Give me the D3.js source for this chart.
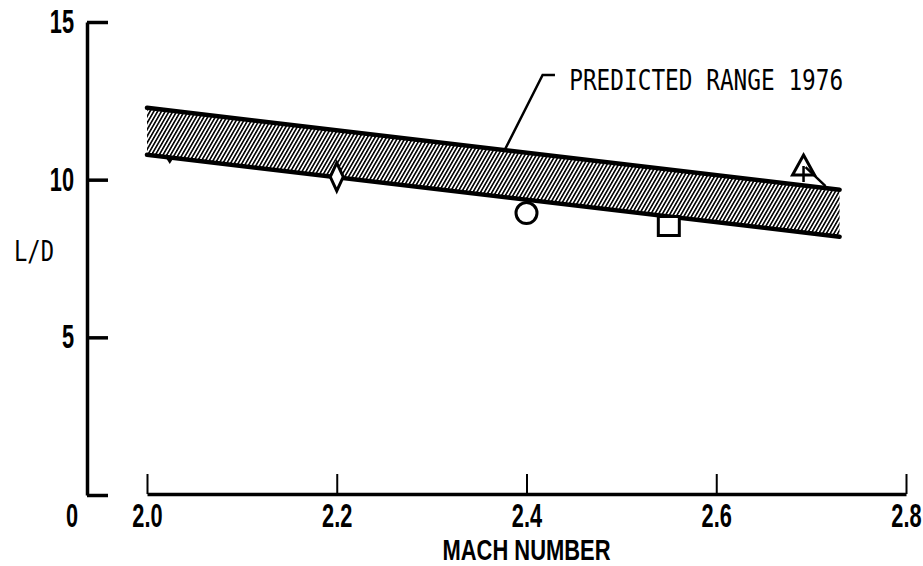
<!DOCTYPE html>
<html>
<head>
<meta charset="utf-8">
<script src="https://cdn.jsdelivr.net/npm/d3@7.9.0/dist/d3.min.js"></script>
<style>
  html, body { margin: 0; padding: 0; background: #fff; }
  svg { display: block; }
  .num { font-family: "Liberation Sans", Arial, sans-serif; font-size: 33px; font-weight: bold; fill: #000; }
  .title { font-family: "Liberation Sans", Arial, sans-serif; font-size: 29px; font-weight: bold; fill: #000; }
  .mono { font-family: "DejaVu Sans Mono", "Liberation Mono", monospace; fill: #000; }
</style>
</head>
<body>
<svg id="chart" width="923" height="566"></svg>
<script>
// predicted range band (1976)
const bandMach = [2.0, 2.73];
const bandUpper = [12.28, 9.68];
const bandLower = [10.79, 8.19];

// measured points
const pointMach = [2.024, 2.2, 2.4, 2.55, 2.692];
const pointLD = [10.62, 10.09, 8.94, 8.53, 10.4];
const pointShape = ["wedge", "diamond", "circle", "square", "flagTriangle"];

// axis ticks
const xTicks = [2.0, 2.2, 2.4, 2.6, 2.8];
const yTicks = [0, 5, 10, 15];

// annotation
const leaderMach = [2.377, 2.417, 2.43];
const leaderLD = [10.94, 13.32, 13.32];
const annotText = "PREDICTED  RANGE  1976";

const svg = d3.select("#chart");

const x = d3.scaleLinear().domain([2.0, 2.8]).range([147, 906]);
const y = d3.scaleLinear().domain([0, 15]).range([495, 22]);
const yAxisX = 87;
const squeeze = 0.66; // condensed look for the numerals

// hatch pattern
const defs = svg.append("defs");
const pat = defs.append("pattern")
  .attr("id", "hatch")
  .attr("patternUnits", "userSpaceOnUse")
  .attr("width", 3.3)
  .attr("height", 10)
  .attr("patternTransform", "rotate(30)");
pat.append("rect").attr("width", 3.3).attr("height", 10).attr("fill", "#fff");
pat.append("rect")
  .attr("x", 0).attr("y", 0).attr("width", 1.6).attr("height", 10)
  .attr("fill", "#000");

// y axis
const yAxis = d3.axisLeft(y)
  .tickValues(yTicks)
  .tickSize(-21)
  .tickSizeOuter(0)
  .tickPadding(13)
  .tickFormat(d => d === 0 ? "" : d);
const gy = svg.append("g")
  .attr("transform", `translate(${yAxisX},0)`)
  .call(yAxis);
gy.select(".domain").attr("stroke", "#000").attr("stroke-width", 3.5);
gy.selectAll(".tick line").attr("stroke", "#000").attr("stroke-width", 3.5);
gy.selectAll(".tick text")
  .attr("class", "num").attr("font-family", null).attr("font-size", null)
  .attr("x", -13 / squeeze)
  .attr("transform", `scale(${squeeze},1)`);

// "0" below the corner
svg.append("text")
  .attr("class", "num")
  .attr("text-anchor", "middle")
  .attr("transform", `translate(${yAxisX - 15},${y(0) + 32}) scale(${squeeze},1)`)
  .text("0");

// x axis
const xAxis = d3.axisBottom(x)
  .tickValues(xTicks)
  .tickSize(-20)
  .tickSizeOuter(0)
  .tickPadding(10)
  .tickFormat(d3.format(".1f"));
const gx = svg.append("g")
  .attr("transform", `translate(0,${y(0) - 1})`)
  .call(xAxis);
gx.select(".domain").attr("stroke", "#000").attr("stroke-width", 3.5);
gx.selectAll(".tick line").attr("stroke", "#000").attr("stroke-width", 2);
gx.selectAll(".tick text")
  .attr("class", "num").attr("font-family", null).attr("font-size", null)
  .attr("transform", `scale(${squeeze},1)`);

svg.append("text")
  .attr("class", "title")
  .attr("x", (x(2.0) + x(2.8)) / 2)
  .attr("y", 560)
  .attr("text-anchor", "middle")
  .attr("textLength", 168)
  .attr("lengthAdjust", "spacingAndGlyphs")
  .text("MACH NUMBER");

svg.append("text")
  .attr("class", "mono")
  .attr("x", 14)
  .attr("y", 261)
  .attr("font-size", "28px")
  .attr("textLength", 40)
  .attr("lengthAdjust", "spacingAndGlyphs")
  .text("L/D");

// points data
const points = pointMach.map((m, i) => ({ m, v: pointLD[i], shape: pointShape[i] }));

function shapePath(shape) {
  const p = d3.path();
  if (shape === "wedge") {
    p.moveTo(-5, -4); p.lineTo(5, -4); p.lineTo(0, 4); p.closePath();
  } else if (shape === "diamond") {
    p.moveTo(0, -14); p.lineTo(6.5, 0); p.lineTo(0, 14); p.lineTo(-6.5, 0); p.closePath();
  } else if (shape === "circle") {
    p.arc(0, 0, 10.5, 0, 2 * Math.PI);
  } else if (shape === "square") {
    p.rect(-10.5, -9.5, 21, 19);
  } else if (shape === "flagTriangle") {
    p.moveTo(0, -12); p.lineTo(11, 8); p.lineTo(-11, 8); p.closePath();
  }
  return p.toString();
}

// wedge point sits beneath the band
const behind = points.filter(d => d.shape === "wedge");
svg.append("g").selectAll("path").data(behind).join("path")
  .attr("transform", d => `translate(${x(d.m)},${y(d.v)})`)
  .attr("d", d => shapePath(d.shape))
  .attr("fill", "#000");

// band
const bandData = bandMach.map((m, i) => ({ m, up: bandUpper[i], lo: bandLower[i] }));
svg.append("path")
  .datum(bandData)
  .attr("d", d3.area().x(d => x(d.m)).y0(d => y(d.lo)).y1(d => y(d.up)))
  .attr("fill", "url(#hatch)");
svg.append("path")
  .datum(bandData)
  .attr("d", d3.line().x(d => x(d.m)).y(d => y(d.up)))
  .attr("fill", "none").attr("stroke", "#000").attr("stroke-width", 4.5).attr("stroke-linecap", "round");
svg.append("path")
  .datum(bandData)
  .attr("d", d3.line().x(d => x(d.m)).y(d => y(d.lo)))
  .attr("fill", "none").attr("stroke", "#000").attr("stroke-width", 4.5).attr("stroke-linecap", "round");

// front symbols
const front = points.filter(d => d.shape !== "wedge");
const sym = svg.append("g").selectAll("g").data(front).join("g")
  .attr("transform", d => `translate(${x(d.m)},${y(d.v)})`);
sym.append("path")
  .attr("d", d => shapePath(d.shape))
  .attr("fill", "#fff")
  .attr("stroke", "#000")
  .attr("stroke-width", 3)
  .attr("stroke-linejoin", "miter");
// flag strokes on the triangle
sym.filter(d => d.shape === "flagTriangle").append("path")
  .attr("d", "M0,-1V15M2,0L22,19")
  .attr("fill", "none")
  .attr("stroke", "#000")
  .attr("stroke-width", 2.5);

// leader line and label
svg.append("path")
  .datum(leaderMach.map((m, i) => [x(m), y(leaderLD[i])]))
  .attr("d", d3.line())
  .attr("fill", "none")
  .attr("stroke", "#000")
  .attr("stroke-width", 2.5);
svg.append("text")
  .attr("class", "mono")
  .attr("x", x(2.445))
  .attr("y", y(12.85))
  .attr("font-size", "29px")
  .attr("textLength", 274)
  .attr("lengthAdjust", "spacingAndGlyphs")
  .text(annotText);
</script>
</body>
</html>
